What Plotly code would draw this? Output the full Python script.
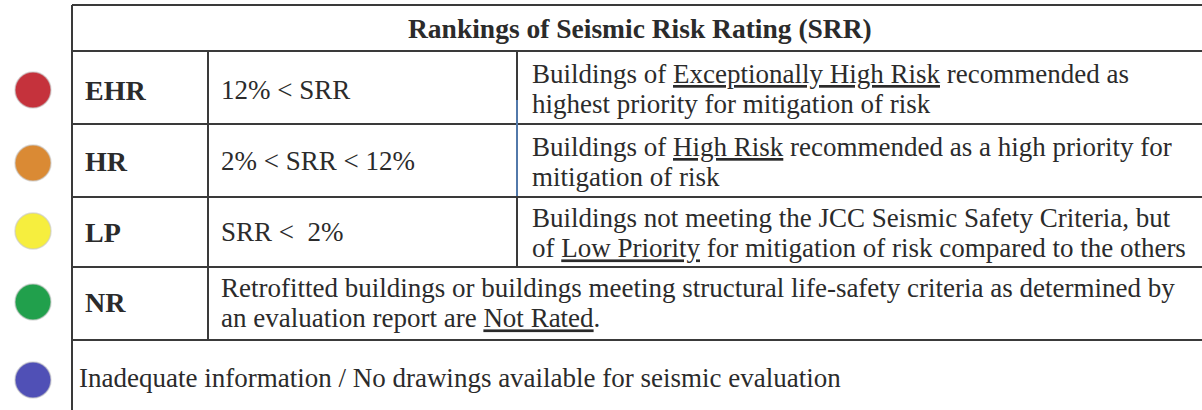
import plotly.graph_objects as go

# ---- data ----
title_text = "Rankings of Seismic Risk Rating (SRR)"
codes = ["EHR", "HR", "LP", "NR"]
ranges = ["12% < SRR", "2% < SRR < 12%", "SRR <  2%", ""]
descriptions = [
    ["Buildings of <u>Exceptionally High Risk</u> recommended as",
     "highest priority for mitigation of risk"],
    ["Buildings of <u>High Risk</u> recommended as a high priority for",
     "mitigation of risk"],
    ["Buildings not meeting the JCC Seismic Safety Criteria, but",
     "of <u>Low Priority</u> for mitigation of risk compared to the others"],
    ["Retrofitted buildings or buildings meeting structural life-safety criteria as determined by",
     "an evaluation report are <u>Not Rated</u>."],
]
footer_text = "Inadequate information / No drawings available for seismic evaluation"
dot_colors = ["#C5323C", "#DA8A34", "#F6EE3E", "#21A04C", "#5050B6"]

# ---- layout geometry (pixel-like coordinates) ----
W, H = 1202, 410
row_edges = [5, 51, 124, 197, 267, 340, 410]
x_left, x_col2, x_col3 = 72, 208, 517
label_y = [90, 161, 232, 302]
desc_y = [89, 162, 233, 303]
footer_y = 378
dot_y = [90, 163, 231, 302, 380]

FONT = "Liberation Serif"
TXT = "#2b2b2b"
LINE = "#3a3a3a"
FS = 27
LINE_GAP_FS = 23.4  # base size so that plotly's 1.3em line step clears the 27px glyph box

fig = go.Figure()

# colored dots
fig.add_trace(go.Scatter(
    x=[33] * len(dot_colors), y=dot_y, mode="markers",
    marker=dict(size=36, color=dot_colors, line=dict(width=1.5, color="rgba(200,200,200,0.6)")),
    hoverinfo="skip", showlegend=False))

shapes = []
def hline(y, x0=x_left, x1=W):
    shapes.append(dict(type="line", x0=x0, x1=x1, y0=y, y1=y, xref="x", yref="y",
                       line=dict(color=LINE, width=2)))
def vline(x, y0, y1, color=LINE, width=2):
    shapes.append(dict(type="line", x0=x, x1=x, y0=y0, y1=y1, xref="x", yref="y",
                       line=dict(color=color, width=width)))

for y in row_edges[:-1]:
    hline(y)
vline(x_left, row_edges[0], H)
vline(x_col2, row_edges[1], row_edges[5])
vline(x_col3, row_edges[1], row_edges[4])
vline(x_col3, 100, 196, color="#5b8fd0", width=1.5)

annotations = []
def txt(x, y, s, bold=False, xanchor="left", size=FS):
    annotations.append(dict(x=x, y=y, xref="x", yref="y", text=("<b>%s</b>" % s) if bold else s,
                            showarrow=False, xanchor=xanchor, yanchor="middle",
                            font=dict(family=FONT, size=size, color=TXT)))

def txt2(x, y, lines):
    s = "<br>".join('<span style="font-size:%dpx">%s</span>' % (FS, ln) for ln in lines)
    annotations.append(dict(x=x, y=y, xref="x", yref="y", text=s, align="left",
                            showarrow=False, xanchor="left", yanchor="middle",
                            font=dict(family=FONT, size=LINE_GAP_FS, color=TXT)))

txt(640, 28, title_text, bold=True, xanchor="center", size=27.5)
for i, code in enumerate(codes):
    txt(83, label_y[i], code, bold=True, size=28)
    if ranges[i]:
        txt(219, label_y[i], ranges[i])
    dx = 530 if ranges[i] else 219
    txt2(dx, desc_y[i], descriptions[i])
txt(77, footer_y, footer_text)

fig.update_layout(
    width=W, height=H, margin=dict(l=0, r=0, t=0, b=0),
    paper_bgcolor="white", plot_bgcolor="white",
    xaxis=dict(range=[0, W], visible=False, fixedrange=True),
    yaxis=dict(range=[H, 0], visible=False, fixedrange=True),
    shapes=shapes, annotations=annotations, showlegend=False)

fig.write_html("out.html", config={"displayModeBar": False},
               post_script="document.body.style.margin='0';document.body.style.overflow='hidden';")
